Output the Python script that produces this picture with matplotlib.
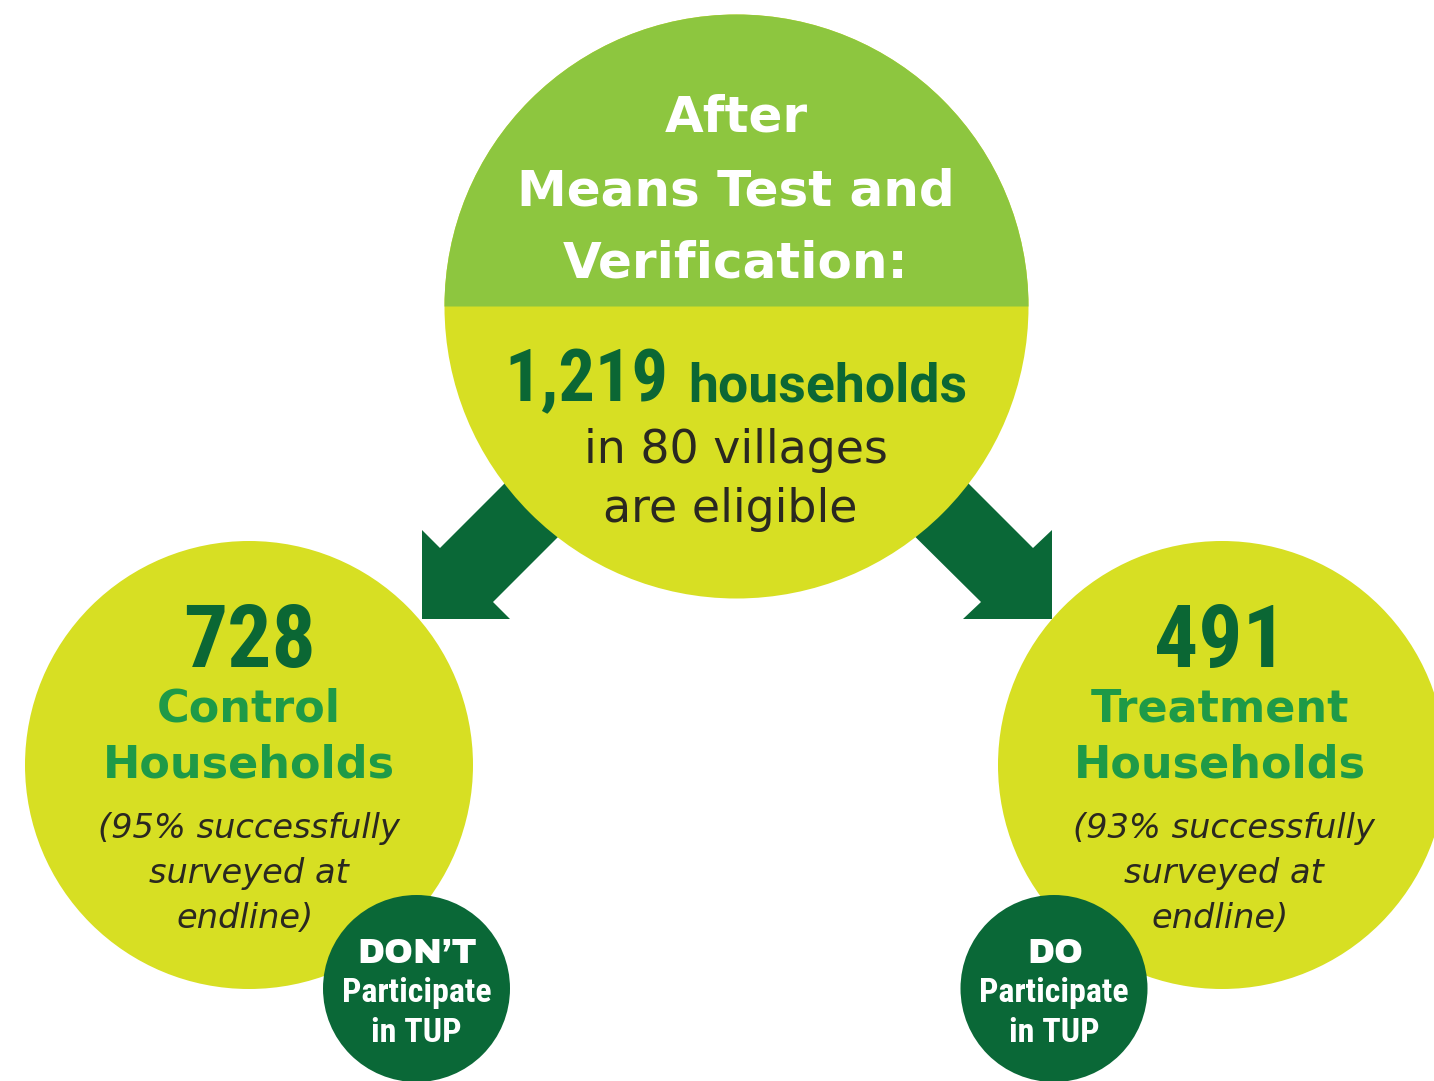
import matplotlib
matplotlib.use("Agg")
import matplotlib.pyplot as plt
from matplotlib.patches import Circle, Wedge, Polygon

# ---- content ----
title_lines = ["After", "Means Test and", "Verification:"]
total_households = "1,219"
total_unit = "households"
eligible_lines = ["in 80 villages", "are eligible"]
group_counts = [728, 491]
group_names = ["Control", "Treatment"]
group_unit = "Households"
survey_rates = [95, 93]
participation = ["DON\u2019T", "DO"]
participation_rest = ["Participate", "in TUP"]

# ---- style ----
DARK = "#0A6837"
NUMC = "#0B6734"
MIDG = "#1E9A47"
LIGHT = "#8DC63F"
YELLOW = "#D7DF23"
BODY = "#2A2820"
WIDE = "DejaVu Sans"
BOLD = "Roboto"
COND = "Roboto Condensed"
HEAVY = "Archivo Black"

W, H = 1434, 1081
fig = plt.figure(figsize=(W / 100, H / 100), dpi=100)
ax = fig.add_axes([0, 0, 1, 1])
ax.set_xlim(0, W)
ax.set_ylim(H, 0)
ax.set_aspect("equal")
ax.axis("off")

# side circles
side = [(249, 765), (1222, 765)]
for cx, cy in side:
    ax.add_patch(Circle((cx, cy), 224, facecolor=YELLOW, edgecolor="none", zorder=1))

# arrows
left_arrow = [(422, 619), (422, 530), (440, 548), (547, 441), (600, 495), (493, 602), (510, 619)]
right_arrow = [(1052, 619), (1052, 530), (1033, 548), (926, 441), (873, 495), (981, 602), (963, 619)]
for pts in (left_arrow, right_arrow):
    ax.add_patch(Polygon(pts, closed=True, facecolor=DARK, edgecolor="none", zorder=2))

# top circle (two colours)
tc, tr = (736.5, 306.5), 292
ax.add_patch(Circle(tc, tr, facecolor=YELLOW, edgecolor="none", zorder=3))
ax.add_patch(Wedge(tc, tr, 180, 360, facecolor=LIGHT, edgecolor="none", zorder=3))

# small participation circles
small = [(416.5, 988.5), (1054, 988.5)]
for cx, cy in small:
    ax.add_patch(Circle((cx, cy), 93.5, facecolor=DARK, edgecolor="none", zorder=4))

# ---- text ----
def T(x, y, s, size, color, family=BOLD, weight="bold", style="normal", ha="center"):
    ax.text(x, y, s, fontsize=size, color=color, family=family, fontweight=weight,
            fontstyle=style, ha=ha, va="baseline", zorder=6)

for s, y in zip(title_lines, [132, 205, 278]):
    T(736, y, s, 36, "white", family=WIDE)

T(668, 401, total_households, 52, NUMC, family=COND, ha="right")
T(688, 401, total_unit, 38.5, NUMC, ha="left")
for s, y, x in zip(eligible_lines, [463, 522], [736, 730]):
    T(x, y, s, 33, BODY, family=WIDE, weight="normal")

for i, (cx, cy) in enumerate(side):
    xc = cx + (0 if i == 0 else -2)
    xi = cx + (0 if i == 0 else 2)
    T(xc, 667, str(group_counts[i]), 63, NUMC, family=COND)
    T(xc, 722, group_names[i], 32, MIDG, family=WIDE)
    T(xc, 778, group_unit, 32, MIDG, family=WIDE)
    T(xi, 838, f"({survey_rates[i]}% successfully", 24.2, BODY, family=WIDE,
      weight="normal", style="italic")
    T(xi, 883, "surveyed at", 24.2, BODY, family=WIDE, weight="normal", style="italic")
    T(xi - 4, 928, "endline)", 24.2, BODY, family=WIDE, weight="normal", style="italic")

for i, (cx, cy) in enumerate(small):
    T(cx + 1, 963, participation[i], 25, "white", family=HEAVY, weight="normal")
    T(cx, 1002, participation_rest[0], 24.5, "white", family=COND)
    T(cx, 1042, participation_rest[1], 24.5, "white", family=COND)

fig.savefig("out.png", dpi=100, facecolor="white")
